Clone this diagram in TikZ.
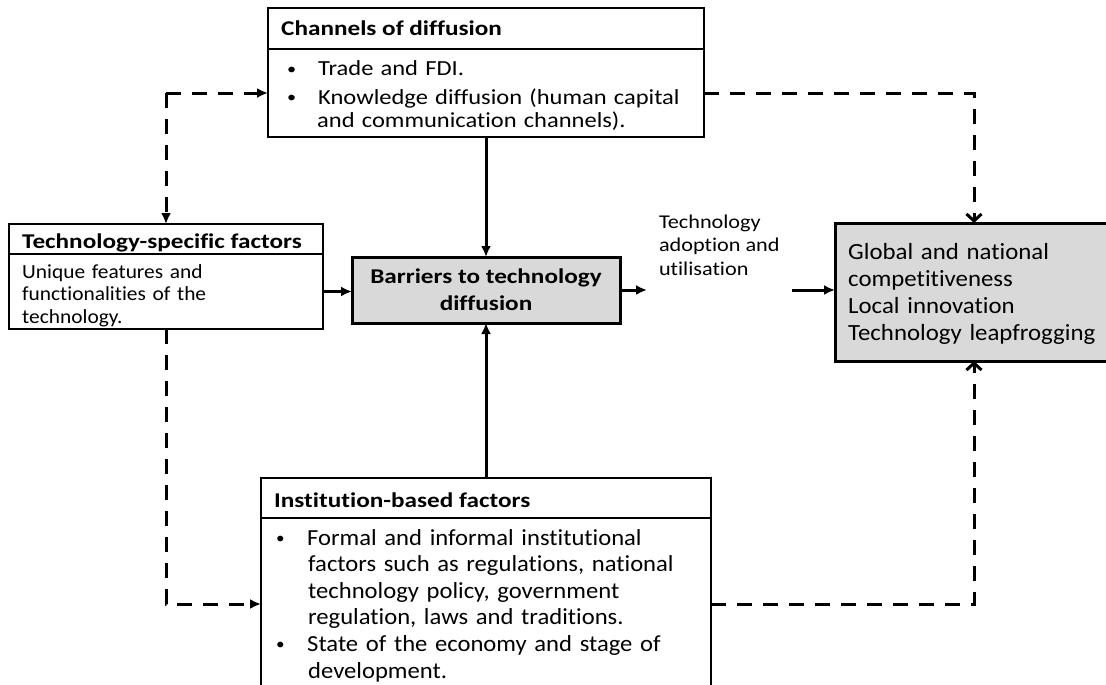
\documentclass[tikz,border=0pt]{standalone}
\usepackage{fontspec}
\setmainfont{Carlito}[Ligatures=NoCommon]
\newfontfamily\widehd{Carlito}[FakeStretch=1.2,Ligatures=NoCommon]
\newfontfamily\widetx{Carlito}[FakeStretch=1.14,Ligatures=NoCommon]
\newfontfamily\narrtx{Carlito}[FakeStretch=1.07,Ligatures=NoCommon]
\usepackage{xcolor}
\usetikzlibrary{arrows.meta,positioning}
\definecolor{boxgrey}{RGB}{217,217,217}
\tikzset{
  hdrbox/.style={draw, line width=2.4pt, inner sep=0pt, outer sep=0pt},
  bodybox/.style={draw, line width=1.3pt, inner sep=0pt, outer sep=0pt},
  greybox/.style={draw, line width=3pt, fill=boxgrey, inner sep=0pt, outer sep=0pt},
  hdrtxt/.style={inner sep=0pt, anchor=base west, font=\widehd\fontsize{21}{25}\selectfont\bfseries},
  bodytxt/.style={inner sep=0pt, anchor=base west, align=left, text width=460pt, font=\widetx\fontsize{21.5}{24}\selectfont},
  solidarr/.style={line width=3pt, -{Latex[length=11pt,width=10pt]}},
  dasharr/.style={line width=3pt, dash pattern=on 15pt off 11pt, -{Latex[length=11pt,width=10pt]}},
  openarr/.style={line width=3pt, dash pattern=on 15pt off 11pt, -{Straight Barb[length=7pt,width=15pt]}}
}
\newcommand{\bul}{\makebox[31pt][l]{\raisebox{1.5pt}{\fontsize{16}{16}\selectfont\textbullet}}}

\begin{document}
\begin{tikzpicture}[x=1pt,y=-1pt]
\clip (0,0) rectangle (1106,685);
\fill[white] (0,0) rectangle (1106,685);

\node[bodybox, minimum width=436pt, minimum height=88pt] (chanbd) at (486,93) {};
\node[hdrbox, minimum width=436pt, minimum height=41pt] (chanhd) at (486,28.5) {};
\node[hdrtxt] (chantitle) at (281,36) {Channels of diffusion};
\node[bodytxt] (chantext) at (287,76) {\bul Trade and FDI.\\[4pt]
\bul Knowledge diffusion (human capital\\
\hspace*{30pt}and communication channels).};

\node[bodybox, minimum width=314pt, minimum height=75pt] (techbd) at (166,291.5) {};
\node[hdrbox, minimum width=314pt, minimum height=30pt] (techhd) at (166,239) {};
\node[hdrtxt] (techtitle) at (22,248) {Technology-specific factors};
\node[bodytxt, font=\narrtx\fontsize{20}{22.5}\selectfont] (techtext) at (22,278) {Unique features and\\
functionalities of the\\
technology.};

\node[greybox, minimum width=268pt, minimum height=66pt, align=center,
  font=\widehd\fontsize{21}{27}\selectfont\bfseries] (barrier) at (486,290) {Barriers to technology\\diffusion};

\node[inner xsep=12pt, inner ysep=0pt, outer sep=0pt, anchor=base west, align=left,
  font=\widetx\fontsize{19.5}{23.5}\selectfont] (adopt) at (647,275) {Technology\\adoption and\\utilisation};

\node[greybox, minimum width=285pt, minimum height=138pt] (outcome) at (977.5,292) {};
\node[bodytxt, font=\narrtx\fontsize{23.2}{27}\selectfont] (outtext) at (848,259) {Global and national\\
competitiveness\\
Local innovation\\
Technology leapfrogging};

\node[bodybox, minimum width=450pt, minimum height=172pt] (instbd) at (486,604) {};
\node[hdrbox, minimum width=450pt, minimum height=40pt] (insthd) at (486,498) {};
\node[hdrtxt] (insttitle) at (274,507) {Institution-based factors};
\node[bodytxt, font=\narrtx\fontsize{23}{26.6}\selectfont] (insttext) at (276,545) {\bul Formal and informal institutional\\
\hspace*{32pt}factors such as regulations, national\\
\hspace*{32pt}technology policy, government\\
\hspace*{32pt}regulation, laws and traditions.\\
\bul State of the economy and stage of\\
\hspace*{32pt}development.};

\coordinate (lcorner) at (166,93);
\coordinate (rtop) at (974,93);
\coordinate (rbot) at (974,604);

\draw[solidarr] (chanbd.south) -- (barrier.north);
\draw[solidarr] (insthd.north) -- (barrier.south);
\draw[solidarr] (techbd.east) -- (techbd.east -| barrier.west);
\draw[solidarr] (barrier.east) -- (barrier.east -| adopt.west);
\draw[solidarr] (adopt.east |- barrier.east) -- (outcome.west |- barrier.east);

\draw[dasharr] (lcorner) -- (chanbd.west);
\draw[dasharr] (lcorner) -- (techhd.north);
\draw[dasharr] (techbd.south) |- (instbd.west);
\draw[openarr] (chanbd.east) -- (rtop) -- (rtop |- outcome.north);
\draw[openarr] (instbd.east) -- (rbot) -- (rbot |- outcome.south);
\end{tikzpicture}
\end{document}
